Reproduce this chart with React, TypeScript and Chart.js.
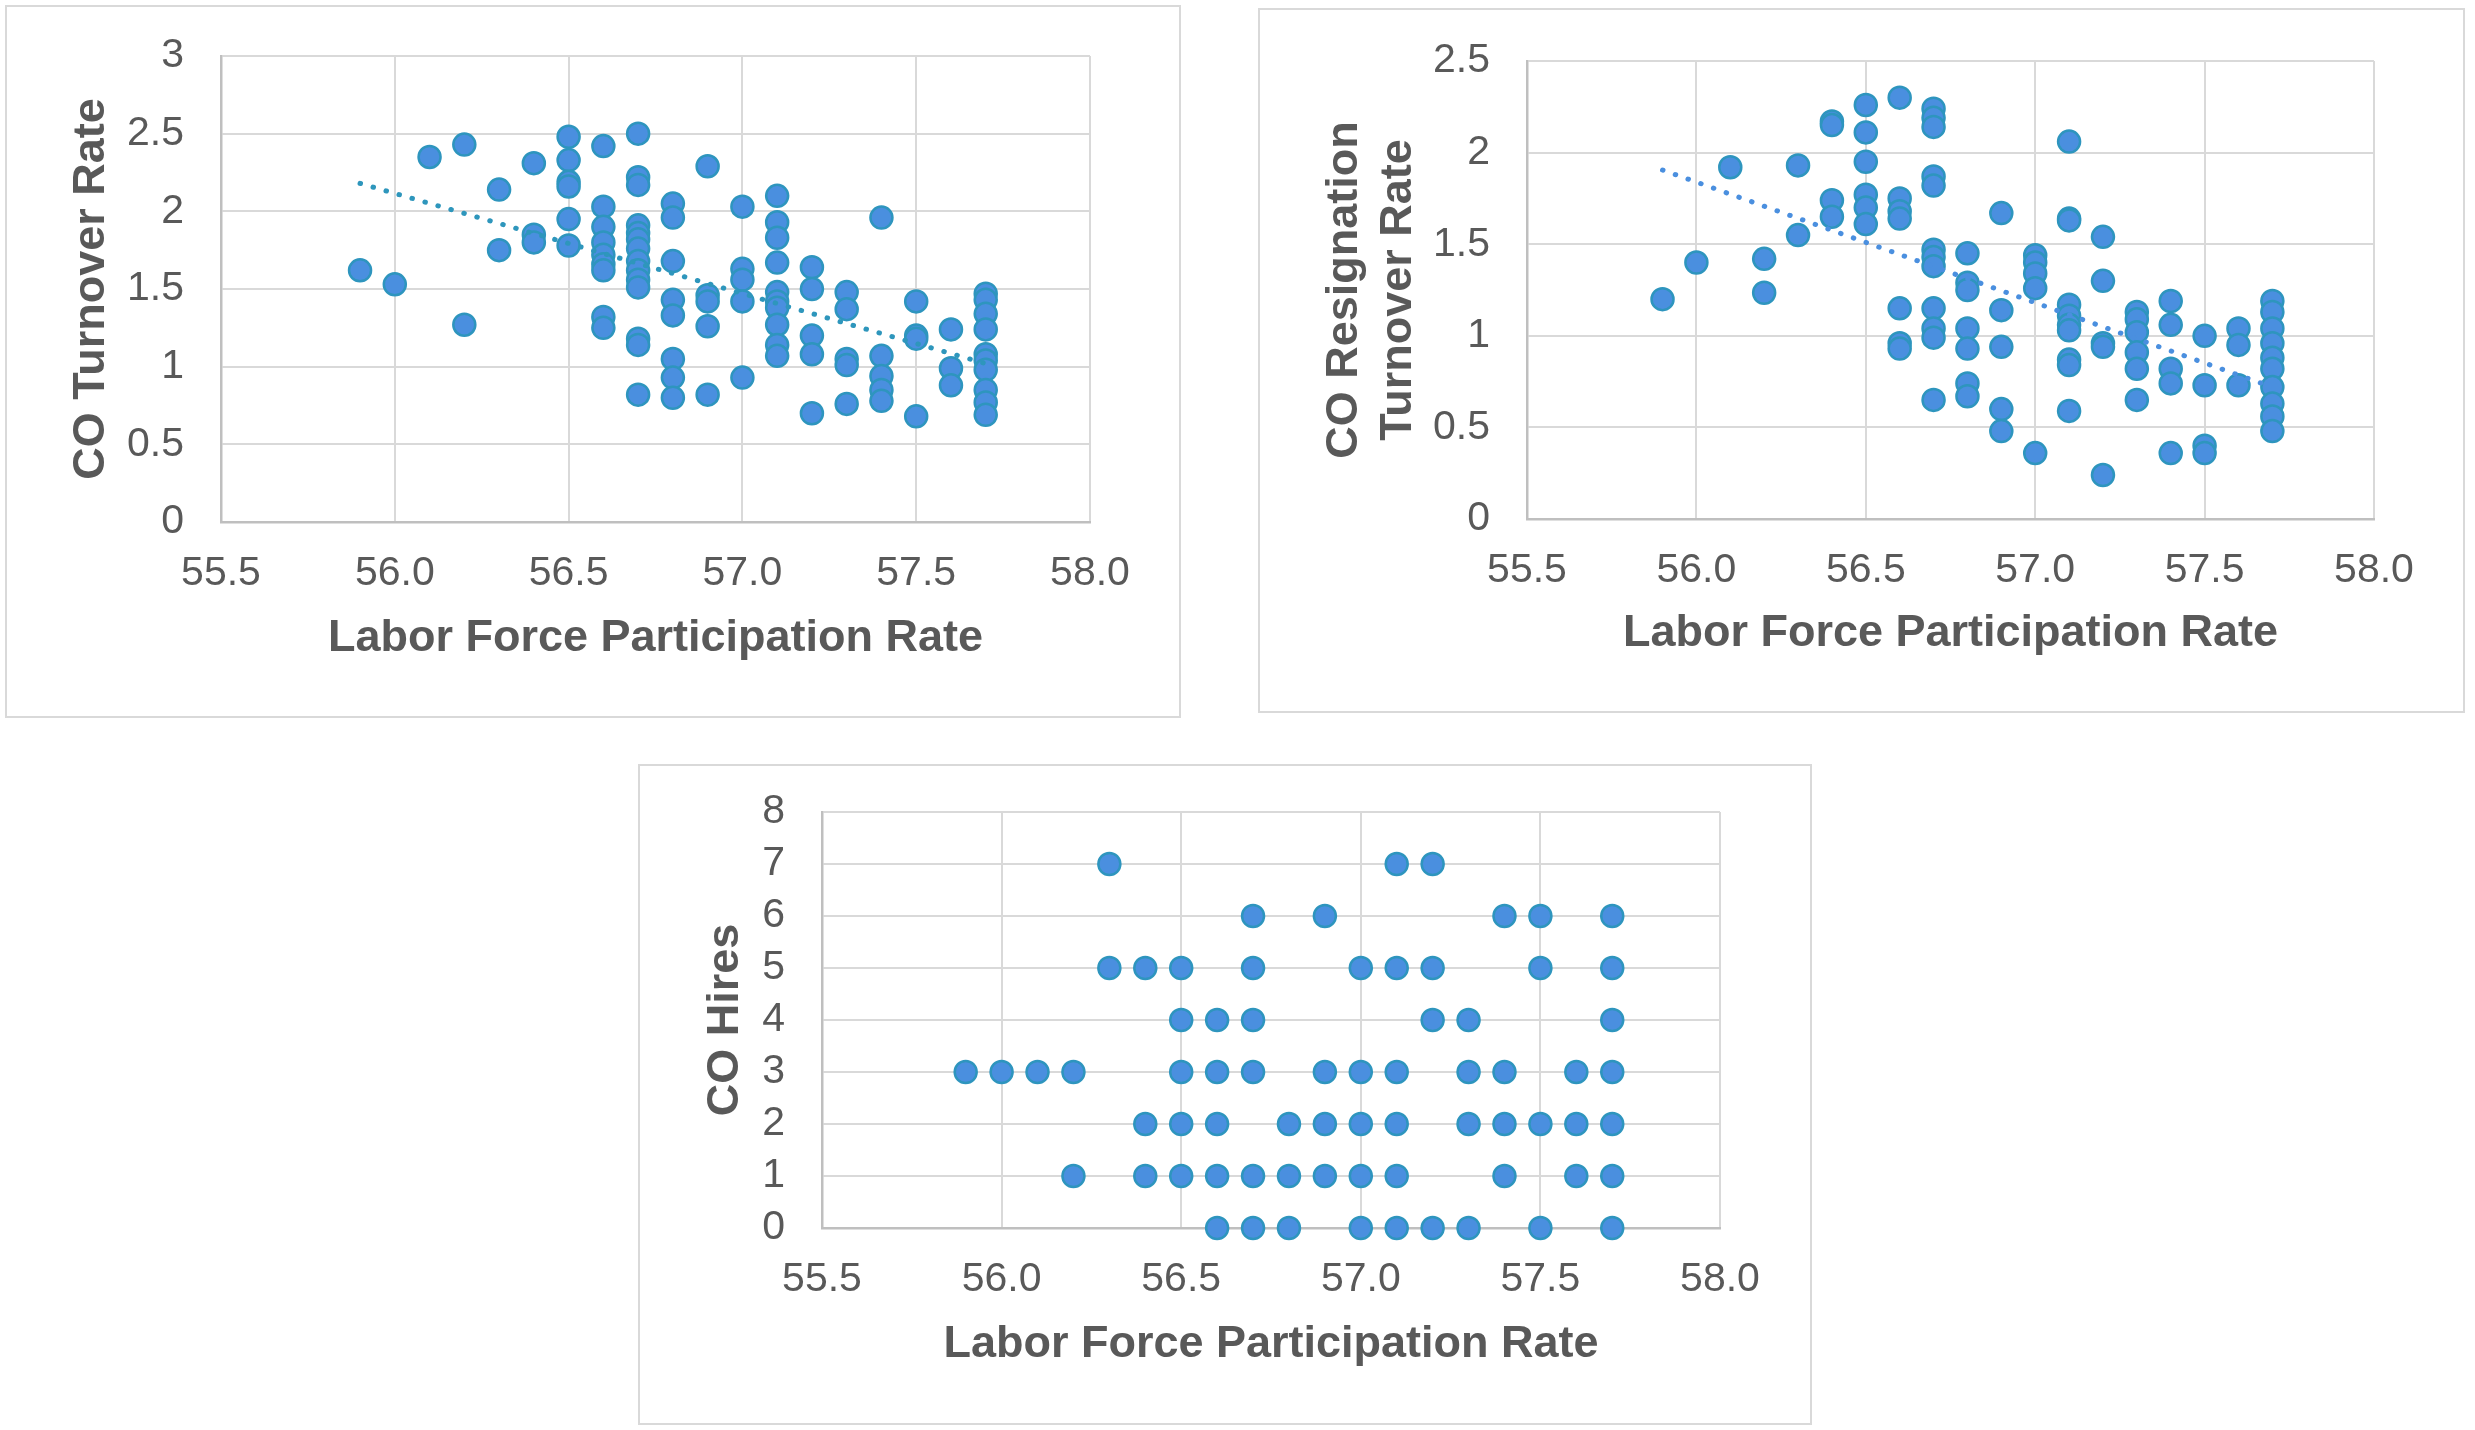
import React, { useEffect, useRef } from "react";
import { Chart, registerables } from "chart.js";

Chart.register(...registerables);

const FONT = '"Liberation Sans", Arial, Helvetica, sans-serif';
const TEXT_COLOR = "#595959";
const GRID_COLOR = "#d9d9d9";
const AXIS_COLOR = "#bfbfbf";
const POINT_FILL = "#4a8fdf";
const POINT_EDGE = "#2e95be";

// Labor force participation rate levels (x values)
const lfprLevels = [55.9, 56.0, 56.1, 56.2, 56.3, 56.4, 56.5, 56.6, 56.7, 56.8, 56.9, 57.0, 57.1, 57.2, 57.3, 57.4, 57.5, 57.6, 57.7];

// CO Turnover Rate values per LFPR level
const turnoverRates: number[][] = [
  [1.62],
  [1.53],
  [2.35],
  [2.43, 1.27],
  [2.14, 1.75],
  [2.31, 1.85, 1.8],
  [2.48, 2.33, 2.19, 2.16, 1.95, 1.78],
  [2.42, 2.03, 1.9, 1.8, 1.72, 1.66, 1.62, 1.32, 1.25],
  [2.5, 2.22, 2.17, 1.91, 1.86, 1.82, 1.76, 1.68, 1.62, 1.56, 1.51, 1.18, 1.14, 0.82],
  [2.05, 1.96, 1.68, 1.43, 1.33, 1.05, 0.93, 0.8],
  [2.29, 1.46, 1.42, 1.26, 0.82],
  [2.03, 1.63, 1.56, 1.42, 0.93],
  [2.1, 1.93, 1.83, 1.67, 1.48, 1.42, 1.38, 1.27, 1.14, 1.07],
  [1.64, 1.5, 1.2, 1.08, 0.7],
  [1.48, 1.37, 1.05, 1.01, 0.76],
  [1.96, 1.07, 0.94, 0.85, 0.78],
  [1.42, 1.2, 1.18, 0.68],
  [1.24, 0.99, 0.88],
  [1.47, 1.43, 1.34, 1.24, 1.08, 1.04, 0.98, 0.85, 0.77, 0.69],
];

// CO Resignation Turnover Rate values per LFPR level
const resignationRates: number[][] = [
  [1.2],
  [1.4],
  [1.92],
  [1.42, 1.235],
  [1.93, 1.55],
  [2.17, 2.15, 1.74, 1.65],
  [2.26, 2.11, 1.95, 1.77, 1.7, 1.61],
  [2.3, 1.75, 1.68, 1.64, 1.15, 0.96, 0.93],
  [2.24, 2.19, 2.14, 1.87, 1.82, 1.47, 1.43, 1.38, 1.15, 1.04, 0.99, 0.65],
  [1.45, 1.29, 1.25, 1.04, 0.93, 0.74, 0.67],
  [1.67, 1.14, 0.94, 0.6, 0.48],
  [1.44, 1.4, 1.34, 1.26, 0.36],
  [2.06, 1.64, 1.63, 1.17, 1.11, 1.06, 1.03, 0.87, 0.84, 0.59],
  [1.54, 1.3, 0.96, 0.94, 0.24],
  [1.13, 1.09, 1.02, 0.91, 0.82, 0.65],
  [1.19, 1.06, 0.82, 0.74, 0.36],
  [1.0, 0.73, 0.4, 0.36],
  [1.04, 0.95, 0.73],
  [1.19, 1.13, 1.04, 0.96, 0.88, 0.82, 0.72, 0.63, 0.56, 0.48],
];

// CO Hires: for each hires count, the LFPR levels where it occurs
const hiresValues = [7, 6, 5, 4, 3, 2, 1, 0];
const hiresLfpr: number[][] = [
  [56.3, 57.1, 57.2],
  [56.7, 56.9, 57.4, 57.5, 57.7],
  [56.3, 56.4, 56.5, 56.7, 57.0, 57.1, 57.2, 57.5, 57.7],
  [56.5, 56.6, 56.7, 57.2, 57.3, 57.7],
  [55.9, 56.0, 56.1, 56.2, 56.5, 56.6, 56.7, 56.9, 57.0, 57.1, 57.3, 57.4, 57.6, 57.7],
  [56.4, 56.5, 56.6, 56.8, 56.9, 57.0, 57.1, 57.3, 57.4, 57.5, 57.6, 57.7],
  [56.2, 56.4, 56.5, 56.6, 56.7, 56.8, 56.9, 57.0, 57.1, 57.4, 57.6, 57.7],
  [56.6, 56.7, 56.8, 57.0, 57.1, 57.2, 57.3, 57.5, 57.7],
];

// Tick labels
const xTicks = [55.5, 56.0, 56.5, 57.0, 57.5, 58.0];
const turnoverTicks = [0, 0.5, 1, 1.5, 2, 2.5, 3];
const resignationTicks = [0, 0.5, 1, 1.5, 2, 2.5];
const hiresTicks = [0, 1, 2, 3, 4, 5, 6, 7, 8];

// Linear trendlines (end points)
const trendX = [55.9, 57.7];
const turnoverTrendY = [2.18, 1.02];
const resignationTrendY = [1.905, 0.72];

type Pt = { x: number; y: number };

function fromGroups(levels: number[], groups: number[][]): Pt[] {
  const out: Pt[] = [];
  levels.forEach((lv, i) => groups[i].forEach((v) => out.push({ x: lv, y: v })));
  return out;
}

function fromRows(values: number[], rows: number[][]): Pt[] {
  const out: Pt[] = [];
  values.forEach((v, i) => rows[i].forEach((lv) => out.push({ x: lv, y: v })));
  return out;
}

type PanelProps = {
  box: [number, number, number, number]; // left, top, width, height (page)
  area: [number, number, number, number]; // plot left, top, right, bottom (page)
  points: Pt[];
  trend?: Pt[];
  trendColor?: string;
  yTicks: number[];
  yTitle: string | string[];
  yTitlePad: number;
  xTitlePad: number;
};

function Panel(p: PanelProps) {
  const ref = useRef<HTMLCanvasElement | null>(null);
  useEffect(() => {
    if (!ref.current) return;
    const [bl, bt, bw, bh] = p.box;
    const [al, at, ar, ab] = p.area;
    const yWidth = al - bl;
    const xHeight = bt + bh - ab;
    const padTop = at - bt;
    const padRight = bl + bw - ar;
    const yMin = p.yTicks[0];
    const yMax = p.yTicks[p.yTicks.length - 1];

    const datasets: any[] = [];
    if (p.trend) {
      datasets.push({
        type: "line",
        data: p.trend,
        borderColor: p.trendColor,
        borderWidth: 5,
        borderDash: [0.5, 13],
        borderCapStyle: "round",
        pointRadius: 0,
        fill: false,
        order: 0,
        clip: false,
      });
    }
    datasets.push({
      type: "scatter",
      data: p.points,
      pointRadius: 11,
      pointBackgroundColor: POINT_FILL,
      pointBorderColor: POINT_EDGE,
      pointBorderWidth: 2.5,
      backgroundColor: POINT_FILL,
      borderColor: POINT_EDGE,
      order: 1,
      clip: false,
    });

    const chart = new Chart(ref.current, {
      type: "scatter",
      data: { datasets },
      options: {
        responsive: false,
        animation: false,
        events: [],
        layout: { padding: { top: padTop, right: padRight, left: 0, bottom: 0 } },
        plugins: { legend: { display: false }, tooltip: { enabled: false } },
        scales: {
          x: {
            type: "linear",
            min: xTicks[0],
            max: xTicks[xTicks.length - 1],
            afterBuildTicks: (s: any) => {
              s.ticks = xTicks.map((v) => ({ value: v }));
            },
            afterFit: (s: any) => {
              s.height = xHeight;
              s.paddingLeft = 0;
              s.paddingRight = 0;
            },
            ticks: {
              autoSkip: false,
              maxRotation: 0,
              padding: 27,
              color: TEXT_COLOR,
              font: { family: FONT, size: 41 },
              callback: (v: any) => Number(v).toFixed(1),
            },
            grid: { color: GRID_COLOR, lineWidth: 2, drawTicks: false },
            border: { color: AXIS_COLOR, width: 2.5 },
            title: {
              display: true,
              text: "Labor Force Participation Rate",
              color: TEXT_COLOR,
              font: { family: FONT, size: 45, weight: "bold" },
              padding: { top: 0, bottom: p.xTitlePad },
            },
          },
          y: {
            type: "linear",
            min: yMin,
            max: yMax,
            afterBuildTicks: (s: any) => {
              s.ticks = p.yTicks.map((v) => ({ value: v }));
            },
            afterFit: (s: any) => {
              s.width = yWidth;
              s.paddingTop = 0;
              s.paddingBottom = 0;
            },
            ticks: {
              autoSkip: false,
              padding: 37,
              color: TEXT_COLOR,
              font: { family: FONT, size: 41 },
              callback: (v: any) => String(Number(v)),
            },
            grid: { color: GRID_COLOR, lineWidth: 2, drawTicks: false },
            border: { color: AXIS_COLOR, width: 2.5 },
            title: {
              display: true,
              text: p.yTitle,
              color: TEXT_COLOR,
              font: { family: FONT, size: 45, weight: "bold" },
              padding: { top: p.yTitlePad, bottom: 0 },
            },
          },
        },
      } as any,
    });
    return () => chart.destroy();
  }, []);

  const [bl, bt, bw, bh] = p.box;
  return (
    <>
      <div
        style={{
          position: "absolute",
          left: bl,
          top: bt,
          width: bw,
          height: bh,
          boxSizing: "border-box",
          border: "2px solid #d9d9d9",
          background: "#fff",
        }}
      />
      <div style={{ position: "absolute", left: bl, top: bt, width: bw, height: bh }}>
        <canvas ref={ref} width={bw} height={bh} style={{ display: "block", width: bw, height: bh }} />
      </div>
    </>
  );
}

export default function App() {
  const p1 = fromGroups(lfprLevels, turnoverRates);
  const p2 = fromGroups(lfprLevels, resignationRates);
  const p3 = fromRows(hiresValues, hiresLfpr);
  const t1 = trendX.map((x, i) => ({ x, y: turnoverTrendY[i] }));
  const t2 = trendX.map((x, i) => ({ x, y: resignationTrendY[i] }));
  return (
    <div style={{ position: "absolute", left: 0, top: 0, width: 2475, height: 1430, background: "#fff" }}>
      <Panel
        box={[5, 5, 1176, 713]}
        area={[221, 56, 1090, 522]}
        points={p1}
        trend={t1}
        trendColor="#2e96bc"
        yTicks={turnoverTicks}
        yTitle="CO Turnover Rate"
        yTitlePad={60}
        xTitlePad={52}
      />
      <Panel
        box={[1258, 8, 1207, 705]}
        area={[1527, 61, 2374, 519]}
        points={p2}
        trend={t2}
        trendColor="#4a8fdf"
        yTicks={resignationTicks}
        yTitle={["CO Resignation", "Turnover Rate"]}
        yTitlePad={60}
        xTitlePad={52}
      />
      <Panel
        box={[638, 764, 1174, 661]}
        area={[822, 812, 1720, 1228]}
        points={p3}
        yTicks={hiresTicks}
        yTitle="CO Hires"
        yTitlePad={61}
        xTitlePad={53}
      />
    </div>
  );
}
